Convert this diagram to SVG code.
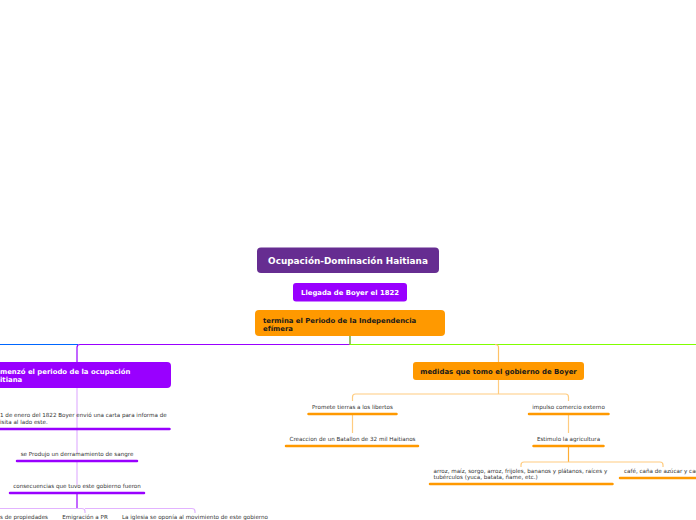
<svg xmlns="http://www.w3.org/2000/svg" width="696" height="520" viewBox="0 0 696 520">
<style>
.b{font-family:"DejaVu Sans","Liberation Sans",sans-serif;font-weight:bold}
.s{font-family:"DejaVu Sans","Liberation Sans",sans-serif;font-size:5.6px;fill:#333333}
.ul{fill:none;stroke-width:2.5;stroke-linecap:round}
.up{stroke:#9900ff}
.uo{stroke:#ff9900}
.c{fill:none;stroke-width:1.2}
</style>
<rect width="696" height="520" fill="#ffffff"/>
<g id="connectors">
<path class="c" d="M0 344.5 H78" stroke="#0066ff"/>
<path class="c" d="M350 336 V344.5 H80 Q77 344.5 77 347.5 V362" stroke="#9900ff"/>
<path class="c" d="M350 336 V344.5 H696" stroke="#80ff00"/>
<path class="c" d="M495 344.5 Q498.5 344.5 498.5 347.5 V362" stroke="#ffc266"/>
<path class="c" d="M77 388 V428 M77 430 V453 M77 462 V485" stroke="#e2b3ff"/>
<path class="c" d="M77 494 V508" stroke="#9900ff"/>
<path class="c" d="M-20 508.5 H82 Q85 508.5 85 511.5 V513 M85 508.5 H192 Q195 508.5 195 511.5 V513" stroke="#e2b3ff"/>
<path class="c" d="M498.5 380 V394 M352.5 401 V397 Q352.5 394 355.5 394 H565.5 Q568.5 394 568.5 397 V401" stroke="#ffcc80"/>
<path class="c" d="M352.5 415 V433 M568.5 415 V433" stroke="#ffcc80"/>
<path class="c" d="M568.5 447 V462" stroke="#ffad33"/>
<path class="c" d="M521 467 V465 Q521 462 524 462 H660 Q663 462 663 465 V467" stroke="#ffcc80"/>
</g>
<g id="title">
<rect x="257" y="247.5" width="182" height="25.5" rx="4" fill="#662d91"/>
<text class="b" x="348" y="264" font-size="8.9" fill="#ffffff" text-anchor="middle">Ocupación-Dominación Haitiana</text>
</g>
<g id="llegada">
<rect x="293" y="283" width="114" height="18.5" rx="3" fill="#9900ff"/>
<text class="b" x="350" y="294.7" font-size="6.85" fill="#ffffff" text-anchor="middle">Llegada de Boyer el 1822</text>
</g>
<g id="termina">
<rect x="255" y="310" width="190" height="26" rx="4" fill="#ff9900"/>
<text class="b" font-size="6.9" fill="#1a1a1a"><tspan x="263" y="322.5">termina el Periodo de la Independencia</tspan><tspan x="263" y="330.5">efímera</tspan></text>
</g>
<g id="comenzo">
<rect x="-10" y="362" width="181" height="26" rx="4" fill="#9900ff"/>
<text class="b" font-size="6.9" fill="#ffffff"><tspan x="0" y="374.3">menzó el periodo de la ocupación</tspan><tspan x="0" y="382.3">itiana</tspan></text>
</g>
<g id="carta">
<text class="s"><tspan x="0" y="416.6">1 de enero del 1822 Boyer envió una carta para informa de</tspan><tspan x="0" y="423.6">isita al lado este.</tspan></text>
<path class="ul up" d="M-5 429 H169.5"/>
</g>
<g id="sangre">
<text class="s" x="77" y="455.8" text-anchor="middle">se Produjo un derramamiento de sangre</text>
<path class="ul up" d="M17 461 H137"/>
</g>
<g id="consecuencias">
<text class="s" x="77" y="487.8" text-anchor="middle">consecuencias que tuvo este gobierno fueron</text>
<path class="ul up" d="M10 493 H144"/>
</g>
<g id="propiedades">
<text class="s" x="48" y="518.6" text-anchor="end">s de propiedades</text>
</g>
<g id="emigracion">
<text class="s" x="85" y="518.6" text-anchor="middle">Emigración a PR</text>
</g>
<g id="iglesia">
<text class="s" x="195" y="518.6" text-anchor="middle">La iglesia se oponía al movimiento de este gobierno</text>
</g>
<g id="medidas">
<rect x="413" y="362" width="171" height="18" rx="3" fill="#ff9900"/>
<text class="b" x="498.5" y="373.7" font-size="6.95" fill="#1a1a1a" text-anchor="middle">medidas que tomo el gobierno de Boyer</text>
</g>
<g id="promete">
<text class="s" x="352.5" y="408.8" text-anchor="middle">Promete tierras a los libertos</text>
<path class="ul uo" d="M308.5 414 H396.5"/>
</g>
<g id="batallon">
<text class="s" x="352.5" y="441" text-anchor="middle">Creaccion de un Batallon de 32 mil Haitianos</text>
<path class="ul uo" d="M286 446 H418"/>
</g>
<g id="impulso">
<text class="s" x="568.5" y="408.8" text-anchor="middle">impulso comercio externo</text>
<path class="ul uo" d="M529 414 H608.5"/>
</g>
<g id="estimulo">
<text class="s" x="568.5" y="441" text-anchor="middle">Estimulo la agricultura</text>
<path class="ul uo" d="M533.5 446 H603.5"/>
</g>
<g id="arroz">
<text class="s"><tspan x="433.5" y="472.8">arroz, maíz, sorgo, arroz, frijoles, bananos y plátanos, raíces y</tspan><tspan x="433.5" y="479.2">tubérculos (yuca, batata, ñame, etc.)</tspan></text>
<path class="ul uo" d="M430 484 H612.5"/>
</g>
<g id="cafe">
<text class="s" x="624" y="472.8">café, caña de azúcar y cacao</text>
<path class="ul uo" d="M620 478 H700"/>
</g>
</svg>
